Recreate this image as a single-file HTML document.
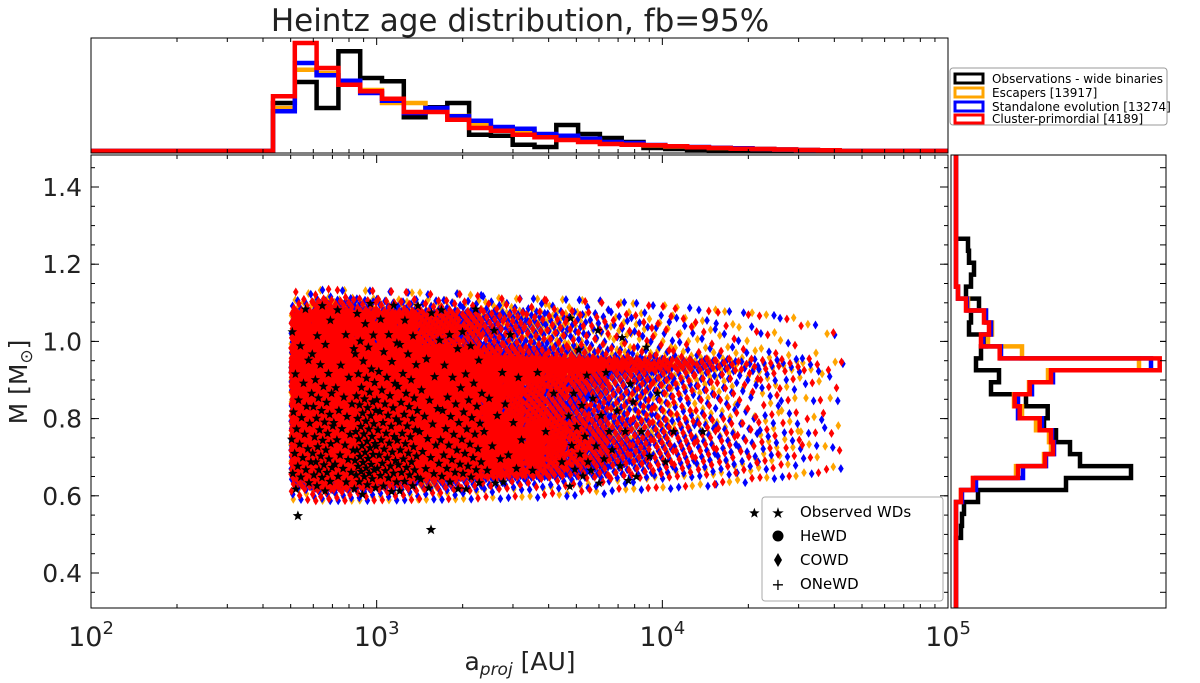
<!DOCTYPE html>
<html><head><meta charset="utf-8">
<style>
body{margin:0;background:#fff;}
svg{display:block;font-family:"DejaVu Sans","Liberation Sans",sans-serif;}
</style></head>
<body>
<svg id="chart" width="1200" height="683" viewBox="0 0 1200 683" xmlns="http://www.w3.org/2000/svg">
<rect x="0" y="0" width="1200" height="683" fill="#fff"/>
<text x="520" y="31" font-size="31" text-anchor="middle" fill="#222">Heintz age distribution, fb=95%</text>
<g id="scatter"></g>
<g id="tophist"></g>
<g id="righthist"></g>
<g id="axes"></g>
<text x="520" y="670" font-size="25" text-anchor="middle" fill="#222">a<tspan font-size="17" dy="5" font-style="italic">proj</tspan><tspan dy="-5"> [AU]</tspan></text>
<text transform="translate(27,382) rotate(-90)" font-size="25" text-anchor="middle" fill="#222">M [M<tspan font-size="17" dy="5">⊙</tspan><tspan dy="-5">]</tspan></text>
<g>
<rect x="950" y="68" width="217" height="57" rx="3" fill="#fff" stroke="#999"/>
<rect x="955" y="74" width="28" height="9" fill="none" stroke="#000" stroke-width="3"/>
<text x="992" y="83" font-size="12">Observations - wide binaries</text>
<rect x="955" y="88" width="28" height="9" fill="none" stroke="#FFA500" stroke-width="3"/>
<text x="992" y="97" font-size="12">Escapers [13917]</text>
<rect x="955" y="102" width="28" height="9" fill="none" stroke="#0000ff" stroke-width="3"/>
<text x="992" y="111" font-size="12">Standalone evolution [13274]</text>
<rect x="955" y="115" width="28" height="8" fill="none" stroke="#ff0000" stroke-width="3"/>
<text x="992" y="123" font-size="12">Cluster-primordial [4189]</text>
</g>
<g>
<rect x="762" y="497" width="181" height="104" rx="3" fill="#fff" stroke="#aaa"/>
<text x="778" y="518" font-size="15" text-anchor="middle">★</text>
<text x="800" y="517" font-size="15">Observed WDs</text>
<circle cx="778" cy="536" r="5.5" fill="#000"/>
<text x="800" y="541" font-size="15">HeWD</text>
<path d="M778,553 L782,560 L778,567 L774,560 Z" fill="#000"/>
<text x="800" y="565" font-size="15">COWD</text>
<text x="778" y="590" font-size="16" text-anchor="middle">+</text>
<text x="800" y="589" font-size="15">ONeWD</text>
</g>
</svg>
<script>
// ---- data: top histogram (log10 a bins), heights in counts
const aBinStart = 2.637;
const aBinWidth = 0.0763;
const histA_obs = [48,69,43,99.7,73,69.7,33.7,43.7,48,16.3,15.3,6.3,4,26,17,13,9,3,2,1,0.5,0,0,0,0,0];
const histA_esc = [43,81.3,78,70,61,48,48,41,35,25.7,23,20,16,13.7,11,8,7,5.5,4.5,3.7,3,2.5,2,1.5,1,0.6];
const histA_std = [39.7,88,75.7,70.3,58,50.3,38,43,34.7,30.3,24,22.3,17,15.3,12.3,9,8,6,4.7,4,3.3,2.7,2,1.5,1,0.6];
const histA_clu = [54.7,108,83,66.3,59.7,52.3,39,39,31.3,23,20.3,16.3,13.7,11,9,7,6.3,5.7,4.7,3.7,3,2.3,2,1.5,1,0.7];
// ---- data: right histogram (mass bins)
const mBinStart = 0.491;
const mBinWidth = 0.031;
const histM_obs = [5,6,8,22,110,175,124,114,100,88,91.7,70,35,43,20,25,30,13,15,23,10,15,18,13,12];
const histM_esc = [0,0,0,5,17,60,88,95,93,80,66,58,73,92,183,66,32,36,30,12,2,0,0,0,0];
const histM_std = [0,0,0,6,20,67,90,98,96,86,62,62,76,97,195,45,27,35,30,11,2,0,0,0,0];
const histM_clu = [0,0,0,5,17,62,89,97,95,83.7,63.7,58.7,73.7,95,203.7,43.7,25,33,28,10,2,0,0,0,0];
// ---- data: mass distribution of plotted observed WD stars (0.491..1.111)
const starM_obs = [0,0,0,8,40,70,60,55,50,45,45,40,25,28,15,18,20,10,12,12];
// ---- data: outlier observed stars (a in AU, mass)
const outlierA = [530,1550,21000];
const outlierM = [0.548,0.512,0.555];
// scatter log-a range
const scatterAStart = 2.70;
const scatterAEnd = 4.633;

const NS="http://www.w3.org/2000/svg";
const X = a => 91 + (Math.log10(a)-2)*285.67;
const XL = l => 91 + (l-2)*285.67;
const Y = m => 187 + (1.4-m)*386;
const TOPBASE = 151, RBASE = 956;
function mk(tag, attrs, parent){const e=document.createElementNS(NS,tag);for(const k in attrs)e.setAttribute(k,attrs[k]);parent.appendChild(e);return e;}

const sc=document.getElementById('scatter');
function invCdf(hist,u){let tot=hist.reduce((s,v)=>s+v,0);let t=u*tot,acc=0;for(let i=0;i<hist.length;i++){if(acc+hist[i]>=t&&hist[i]>0){const f=(t-acc)/hist[i];return mBinStart+mBinWidth*(i+f);}acc+=hist[i];}return mBinStart+mBinWidth*hist.length;}
function starPath(x,y,r){let s='';for(let i=0;i<10;i++){const rr=i%2?r*0.42:r;const an=-Math.PI/2+i*Math.PI/5;s+=(i?'L':'M')+(x+rr*Math.cos(an)).toFixed(1)+','+(y+rr*Math.sin(an)).toFixed(1);}return s+'Z';}
function population(histA,histM,k,color,name,star,seed){
  const g=mk('g',{},sc);
  
  
  const w=(scatterAEnd-scatterAStart)/histA.length;
  let d='';
  for(let j=0;j<histA.length;j++){
    const cnt=Math.round(histA[j]*k);
    for(let c=0;c<cnt;c++){
      const u=(c+0.5)/cnt, v=(c*0.6180339887+seed+j*0.377)%1;
      const m=invCdf(histM,u);
      const x=XL(scatterAStart+w*(j+v)), y=Y(m);
      if(star){d+=starPath(x,y,5);}else{d+=`M${x.toFixed(1)},${(y-4.5).toFixed(1)}L${(x+2.8).toFixed(1)},${y.toFixed(1)}L${x.toFixed(1)},${(y+4.5).toFixed(1)}L${(x-2.8).toFixed(1)},${y.toFixed(1)}Z`;}
    }
  }
  const p=mk('path',{d:d,fill:color},g);
  
  
}
population(histA_esc,histM_esc,11,'#FFA500','escapers-points',false,0.11);
population(histA_std,histM_std,11,'#0000ff','standalone-points',false,0.47);
population(histA_clu,histM_clu,11,'#ff0000','cluster-primordial-points',false,0.79);
population(histA_obs,starM_obs,0.55,'#000','observed-wd-points',true,0.23);
{const g=mk('g',{},sc);
 
 
 let d='';for(let i=0;i<outlierA.length;i++)d+=starPath(X(outlierA[i]),Y(outlierM[i]),5.5);
 mk('path',{d:d,fill:'#000'},g);}

const th=document.getElementById('tophist');
function stepTop(hist,color,name){
  let d=`M91,${TOPBASE}L${XL(aBinStart).toFixed(1)},${TOPBASE}`;
  for(let i=0;i<hist.length;i++){const x0=XL(aBinStart+aBinWidth*i),x1=XL(aBinStart+aBinWidth*(i+1));const y=TOPBASE-hist[i];d+=`L${x0.toFixed(1)},${y.toFixed(1)}L${x1.toFixed(1)},${y.toFixed(1)}`;}
  d+=`L${XL(aBinStart+aBinWidth*hist.length).toFixed(1)},${TOPBASE}L948,${TOPBASE}`;
  const p=mk('path',{d:d,fill:'none',stroke:color,'stroke-width':4.5},th);
  
  
}
stepTop(histA_obs,'#000','top-hist-observations');
stepTop(histA_esc,'#FFA500','top-hist-escapers');
stepTop(histA_std,'#0000ff','top-hist-standalone');
stepTop(histA_clu,'#ff0000','top-hist-cluster-primordial');

const rh=document.getElementById('righthist');
function stepRight(hist,color,name){
  let d=`M${RBASE},608L${RBASE},${Y(mBinStart).toFixed(1)}`;
  for(let i=0;i<hist.length;i++){const y0=Y(mBinStart+mBinWidth*i),y1=Y(mBinStart+mBinWidth*(i+1));const x=RBASE+hist[i];d+=`L${x.toFixed(1)},${y0.toFixed(1)}L${x.toFixed(1)},${y1.toFixed(1)}`;}
  d+=`L${RBASE},${Y(mBinStart+mBinWidth*hist.length).toFixed(1)}L${RBASE},155`;
  const p=mk('path',{d:d,fill:'none',stroke:color,'stroke-width':4.5},rh);
  
  
}
stepRight(histM_obs,'#000','right-hist-observations');
stepRight(histM_esc,'#FFA500','right-hist-escapers');
stepRight(histM_std,'#0000ff','right-hist-standalone');
stepRight(histM_clu,'#ff0000','right-hist-cluster-primordial');

const ax=document.getElementById('axes');
const frames=[[91,155,857,453,'main-plot-frame'],[91,38,857,115,'top-hist-frame'],[951,155,215,453,'right-hist-frame']];
for(const f of frames){const r=mk('rect',{x:f[0],y:f[1],width:f[2],height:f[3],fill:'none',stroke:'#000','stroke-width':1},ax);}
const xDecades=[2,3,4,5];
for(const dcd of xDecades){
  const x=XL(dcd);
  mk('line',{x1:x,y1:608,x2:x,y2:600,stroke:'#000'},ax);
  mk('line',{x1:x,y1:155,x2:x,y2:163,stroke:'#000'},ax);
  mk('line',{x1:x,y1:38,x2:x,y2:45,stroke:'#000'},ax);
  const t=mk('text',{x:x,y:646,'font-size':27,'text-anchor':'middle',fill:'#222'},ax);
  
  
  const b=document.createElementNS(NS,'tspan');b.textContent='10';t.appendChild(b);
  const e=document.createElementNS(NS,'tspan');e.setAttribute('font-size','18');e.setAttribute('dy','-12');e.textContent=String(dcd);t.appendChild(e);
  if(dcd<5)for(let k=2;k<10;k++){const xm=XL(dcd+Math.log10(k));mk('line',{x1:xm,y1:608,x2:xm,y2:604,stroke:'#000'},ax);mk('line',{x1:xm,y1:155,x2:xm,y2:159,stroke:'#000'},ax);mk('line',{x1:xm,y1:38,x2:xm,y2:42,stroke:'#000'},ax);mk('line',{x1:xm,y1:153,x2:xm,y2:149,stroke:'#000'},ax);}
}
const yTicks=['0.4','0.6','0.8','1.0','1.2','1.4'];
for(const s of yTicks){
  const y=Y(parseFloat(s));
  mk('line',{x1:91,y1:y,x2:99,y2:y,stroke:'#000'},ax);
  mk('line',{x1:948,y1:y,x2:940,y2:y,stroke:'#000'},ax);
  mk('line',{x1:1166,y1:y,x2:1160,y2:y,stroke:'#000'},ax);
  const t=mk('text',{x:82,y:y+9,'font-size':25,'text-anchor':'end',fill:'#222'},ax);
  
  
  t.textContent=s;
}
for(let m=0.35;m<1.5;m+=0.05){const y=Y(m);if(y<157||y>606)continue;mk('line',{x1:91,y1:y,x2:95,y2:y,stroke:'#000'},ax);mk('line',{x1:948,y1:y,x2:944,y2:y,stroke:'#000'},ax);mk('line',{x1:1166,y1:y,x2:1160,y2:y,stroke:'#000'},ax);}
</script>
</body></html>
